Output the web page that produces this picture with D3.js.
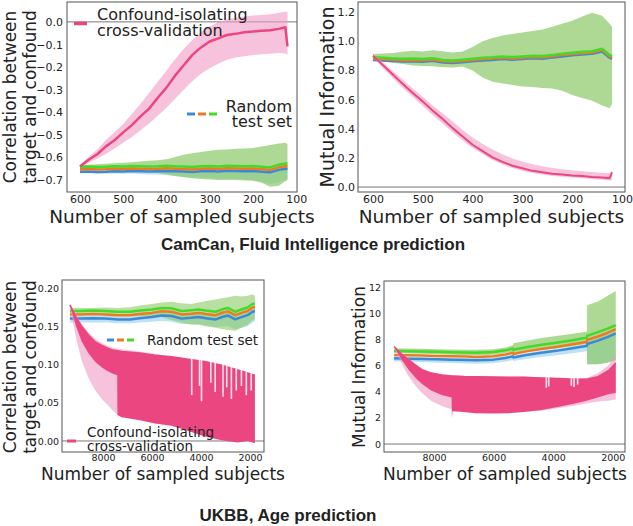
<!DOCTYPE html>
<html><head><meta charset="utf-8">
<script src="https://cdn.jsdelivr.net/npm/d3@7"></script>
<style>
body{margin:0;background:#fff}
text{font-family:"DejaVu Sans",sans-serif;fill:#222}
.title{font-family:"Liberation Sans",Arial,sans-serif;font-weight:bold}
</style>
</head><body>
<svg id="chart" width="633" height="526"></svg>
<script>
// ---------------- DATA ----------------
// CamCan (top row): x = number of sampled subjects
const camX = [600,580,560,540,520,500,480,460,440,420,400,380,360,340,320,300,280,260,240,220,200,180,160,140,125,120];
const camXTicks = [600,500,400,300,200,100];
const camCorrTicks = [-0.7,-0.6,-0.5,-0.4,-0.3,-0.2,-0.1,0.0];
const camMiTicks = [0.0,0.2,0.4,0.6,0.8,1.0,1.2];

// correlation, confound-isolating CV
const camCorrCV   = [-0.640,-0.610,-0.586,-0.551,-0.524,-0.489,-0.457,-0.418,-0.384,-0.336,-0.291,-0.238,-0.192,-0.146,-0.113,-0.087,-0.073,-0.058,-0.053,-0.046,-0.043,-0.039,-0.037,-0.031,-0.024,-0.108];
const camCorrCVlo = [-0.645,-0.625,-0.605,-0.585,-0.560,-0.535,-0.510,-0.480,-0.450,-0.415,-0.380,-0.340,-0.300,-0.262,-0.230,-0.205,-0.185,-0.168,-0.158,-0.152,-0.147,-0.143,-0.141,-0.138,-0.140,-0.145];
const camCorrCVhi = [-0.635,-0.598,-0.565,-0.523,-0.488,-0.452,-0.408,-0.362,-0.315,-0.265,-0.215,-0.165,-0.120,-0.080,-0.045,-0.020,-0.002,0.010,0.018,0.024,0.028,0.030,0.034,0.040,0.045,0.045];
// correlation, random test set (three runs)
const camCorrBlue   = [-0.663,-0.662,-0.664,-0.663,-0.661,-0.662,-0.660,-0.661,-0.662,-0.661,-0.660,-0.661,-0.662,-0.664,-0.661,-0.660,-0.662,-0.659,-0.660,-0.661,-0.660,-0.663,-0.666,-0.655,-0.650,-0.651];
const camCorrOrange = [-0.652,-0.651,-0.653,-0.652,-0.650,-0.651,-0.649,-0.650,-0.651,-0.650,-0.648,-0.650,-0.651,-0.653,-0.650,-0.649,-0.651,-0.648,-0.649,-0.650,-0.649,-0.652,-0.655,-0.644,-0.639,-0.640];
const camCorrGreen  = [-0.641,-0.640,-0.642,-0.641,-0.639,-0.640,-0.638,-0.639,-0.640,-0.639,-0.637,-0.639,-0.640,-0.642,-0.639,-0.638,-0.640,-0.637,-0.638,-0.639,-0.638,-0.641,-0.644,-0.632,-0.627,-0.628];
const camCorrGreenLo = [-0.646,-0.648,-0.652,-0.655,-0.657,-0.659,-0.661,-0.663,-0.666,-0.670,-0.675,-0.682,-0.688,-0.692,-0.695,-0.698,-0.700,-0.700,-0.700,-0.702,-0.703,-0.712,-0.730,-0.725,-0.705,-0.700];
const camCorrGreenHi = [-0.634,-0.632,-0.630,-0.628,-0.626,-0.624,-0.621,-0.618,-0.615,-0.612,-0.608,-0.598,-0.588,-0.582,-0.576,-0.570,-0.566,-0.565,-0.562,-0.560,-0.558,-0.552,-0.545,-0.538,-0.535,-0.540];
const camCorrBlueLo = [-0.670,-0.670,-0.672,-0.672,-0.671,-0.672,-0.671,-0.673,-0.675,-0.676,-0.678,-0.682,-0.686,-0.690,-0.690,-0.692,-0.694,-0.694,-0.695,-0.697,-0.700,-0.708,-0.718,-0.710,-0.700,-0.698];
const camCorrBlueHi = [-0.657,-0.656,-0.658,-0.657,-0.655,-0.656,-0.654,-0.655,-0.656,-0.655,-0.654,-0.655,-0.656,-0.658,-0.655,-0.654,-0.656,-0.653,-0.654,-0.655,-0.654,-0.657,-0.660,-0.649,-0.644,-0.645];

// mutual information, CamCan
const camMiCV   = [0.900,0.836,0.772,0.706,0.645,0.586,0.524,0.466,0.404,0.346,0.290,0.246,0.204,0.173,0.146,0.129,0.111,0.101,0.091,0.086,0.079,0.076,0.069,0.066,0.061,0.100];
const camMiCVlo = [0.895,0.815,0.748,0.680,0.618,0.556,0.494,0.436,0.376,0.320,0.268,0.226,0.186,0.155,0.130,0.112,0.097,0.086,0.076,0.071,0.065,0.060,0.055,0.050,0.045,0.045];
const camMiCVhi = [0.905,0.855,0.795,0.735,0.675,0.620,0.560,0.505,0.450,0.392,0.340,0.296,0.258,0.225,0.195,0.175,0.156,0.142,0.130,0.122,0.115,0.108,0.103,0.098,0.095,0.110];
const camMiGreen  = [0.890,0.886,0.882,0.879,0.881,0.878,0.884,0.872,0.868,0.873,0.880,0.886,0.890,0.896,0.891,0.896,0.901,0.898,0.906,0.914,0.921,0.927,0.932,0.948,0.905,0.898];
const camMiOrange = [0.881,0.877,0.873,0.870,0.872,0.869,0.875,0.863,0.859,0.864,0.871,0.877,0.881,0.887,0.882,0.887,0.892,0.889,0.897,0.905,0.912,0.918,0.923,0.939,0.896,0.889];
const camMiBlue   = [0.872,0.868,0.864,0.861,0.863,0.860,0.866,0.854,0.850,0.855,0.862,0.868,0.872,0.878,0.873,0.878,0.883,0.880,0.888,0.896,0.903,0.909,0.914,0.930,0.887,0.880];
const camMiGreenLo = [0.868,0.860,0.852,0.843,0.834,0.830,0.828,0.822,0.820,0.826,0.800,0.752,0.722,0.710,0.700,0.690,0.686,0.680,0.676,0.660,0.632,0.610,0.592,0.560,0.540,0.570];
const camMiGreenHi = [0.912,0.915,0.920,0.928,0.934,0.930,0.938,0.932,0.922,0.930,0.960,1.000,1.022,1.040,1.050,1.060,1.070,1.080,1.100,1.120,1.140,1.170,1.195,1.175,1.120,1.100];

// UKBB (bottom row)
const ukXTicks = [8000,6000,4000,2000];
const ukCorrTicks = [0.00,0.05,0.10,0.15,0.20];
const ukMiTicks = [0,2,4,6,8,10,12];

// UKBB correlation, confound-isolating CV (dense oscillating line: min/max envelope) + band
const ukCorrX      = [9350,9100,8870,8600,8330,8050,7780,7600,7420,7410,7240,6500,5880,5200,4520,3850,3160,2500,2100,1800];
const ukCorrLineHi = [0.178,0.162,0.150,0.139,0.130,0.125,0.121,0.119,0.118,0.118,0.117,0.115,0.112,0.110,0.107,0.104,0.099,0.093,0.089,0.086];
const ukCorrLineLo = [0.178,0.150,0.130,0.115,0.104,0.096,0.091,0.088,0.086,0.034,0.031,0.027,0.023,0.020,0.013,0.006,0.001,-0.002,0.000,-0.003];
const ukCorrBandHi = [0.180,0.165,0.153,0.142,0.134,0.128,0.124,0.122,0.121,0.121,0.120,0.117,0.114,0.110,0.103,0.094,0.085,0.081,0.079,0.076];
const ukCorrBandLo = [0.176,0.135,0.105,0.083,0.067,0.055,0.046,0.040,0.035,0.034,0.032,0.028,0.024,0.020,0.015,0.010,0.005,0.002,0.001,0.000];
const ukCorrGapX = [4380,4060,3980,3600,3420,3100,2950,2760,2560,2350,2150,1950];
const ukCorrGapY = [0.060,0.072,0.052,0.076,0.064,0.058,0.070,0.055,0.066,0.072,0.060,0.066];
// UKBB correlation, random test set
const ukCorrRandX = [9350,8900,8400,7900,7400,6900,6500,6000,5600,5200,4800,4400,4100,3800,3400,3100,2900,2600,2350,2100,1900,1800];
const ukCorrBlue   = [0.160,0.160,0.1605,0.160,0.159,0.159,0.1605,0.162,0.164,0.1635,0.160,0.161,0.162,0.1605,0.159,0.1625,0.164,0.159,0.162,0.1645,0.169,0.170];
const ukCorrOrange = [0.1655,0.1655,0.166,0.1655,0.1645,0.1645,0.166,0.1675,0.1695,0.169,0.1655,0.1665,0.1675,0.166,0.1645,0.168,0.1695,0.1645,0.1675,0.170,0.1745,0.1755];
const ukCorrGreen  = [0.170,0.170,0.1705,0.170,0.169,0.169,0.1705,0.172,0.174,0.1735,0.170,0.171,0.172,0.1705,0.169,0.1725,0.174,0.169,0.172,0.1745,0.179,0.180];
const ukCorrGreenLo = [0.166,0.166,0.166,0.166,0.165,0.164,0.163,0.163,0.162,0.158,0.155,0.152,0.152,0.150,0.148,0.146,0.145,0.144,0.148,0.152,0.158,0.160];
const ukCorrGreenHi = [0.174,0.174,0.174,0.1745,0.174,0.175,0.177,0.179,0.181,0.182,0.180,0.179,0.181,0.183,0.185,0.187,0.188,0.190,0.189,0.190,0.192,0.190];
const ukCorrBlueLo = [0.155,0.155,0.155,0.155,0.154,0.154,0.155,0.156,0.157,0.156,0.153,0.153,0.153,0.151,0.149,0.150,0.150,0.146,0.148,0.150,0.155,0.157];
const ukCorrBlueHi = [0.164,0.164,0.1645,0.164,0.163,0.163,0.1645,0.166,0.168,0.1675,0.164,0.165,0.166,0.1645,0.163,0.1665,0.168,0.163,0.166,0.1685,0.173,0.174];

// UKBB mutual information, confound-isolating CV
const ukMiX      = [9340,9100,8860,8600,8410,8100,7740,7410,7400,7380,7000,6620,6000,5500,5000,4390,3800,3270,2880,2500,2150,1900];
const ukMiLineHi = [7.45,6.90,6.45,6.00,5.68,5.42,5.27,5.20,5.20,5.20,5.16,5.14,5.12,5.10,5.10,5.05,5.00,4.95,4.95,5.15,5.60,6.20];
const ukMiLineLo = [7.45,6.50,5.70,5.00,4.60,4.10,3.75,3.55,1.97,2.50,2.45,2.35,2.33,2.35,2.45,2.60,2.85,3.10,3.30,3.55,3.80,3.90];
const ukMiBandHi = [7.50,7.00,6.55,6.10,5.78,5.50,5.33,5.25,5.25,5.25,5.20,5.18,5.16,5.14,5.14,5.10,5.05,5.00,5.05,5.40,6.00,6.90];
const ukMiBandLo = [7.40,6.20,5.20,4.40,3.90,3.30,2.90,2.65,2.60,2.55,2.50,2.45,2.40,2.40,2.45,2.55,2.75,2.95,3.10,3.25,3.30,3.40];
const ukMiGapX = [4230,4150,3390,3300,3180];
const ukMiGapY = [4.30,4.40,4.45,4.35,4.55];
// UKBB mutual information, random test set
const ukMiRandX = [9340,8900,8400,7900,7400,6900,6600,6000,5600,5350,5340,4900,4400,3900,3400,3000,2870,2860,2500,2200,1900];
const ukMiBlue   = [6.55,6.52,6.50,6.47,6.45,6.42,6.40,6.45,6.58,6.70,6.62,6.80,6.98,7.12,7.30,7.45,7.50,7.65,7.90,8.15,8.45];
const ukMiOrange = [6.80,6.78,6.76,6.73,6.71,6.68,6.66,6.71,6.84,6.97,6.88,7.08,7.27,7.42,7.60,7.76,7.81,7.96,8.22,8.47,8.78];
const ukMiGreen  = [7.12,7.10,7.08,7.05,7.02,6.99,6.98,7.03,7.16,7.30,7.20,7.40,7.58,7.74,7.92,8.08,8.13,8.28,8.55,8.80,9.08];
const ukMiGreenLo = [6.95,6.92,6.90,6.86,6.82,6.78,6.77,6.82,6.95,7.05,6.90,7.05,7.20,7.30,7.45,7.60,7.65,6.10,6.10,6.20,6.40];
const ukMiGreenHi = [7.30,7.30,7.28,7.25,7.22,7.20,7.20,7.25,7.38,7.55,7.70,7.90,8.10,8.25,8.40,8.55,8.60,10.60,10.90,11.30,11.70];
const ukMiBlueLo = [6.30,6.28,6.26,6.22,6.20,6.16,6.14,6.18,6.30,6.42,6.35,6.50,6.65,6.78,6.92,7.05,7.10,6.10,6.10,6.25,6.45];
const ukMiBlueHi = [6.70,6.67,6.65,6.62,6.60,6.57,6.55,6.60,6.73,6.85,6.77,6.95,7.13,7.27,7.45,7.60,7.65,7.80,8.05,8.30,8.60];

// text
const legendCV = ["Confound-isolating","cross-validation"];
const legendRandom = ["Random","test set"];
const xLabel = "Number of sampled subjects";
const corrLabel = ["Correlation between","target and confound"];
const miLabel = "Mutual Information";
const titles = ["CamCan, Fluid Intelligence prediction","UKBB, Age prediction"];

// ---------------- STYLE ----------------
const PINK="#eb4680", PINKBAND="#f29ac4", BLUE="#3a8ad6", ORANGE="#ee7a24", GREEN="#45d929",
      GREENBAND="#8cc966", BLUEBAND="#9fd5ee";

const svg = d3.select("#chart");
let clipId = 0;

function makePanel(o){
  const x = d3.scaleLinear().domain(o.xDom).range([o.l,o.r]);
  const y = d3.scaleLinear().domain(o.yDom).range([o.b,o.t]);
  const id = "clip"+(clipId++);
  svg.append("clipPath").attr("id",id).append("rect")
     .attr("x",o.l).attr("y",o.t).attr("width",o.r-o.l).attr("height",o.b-o.t);
  const g = svg.append("g").attr("clip-path",`url(#${id})`);
  return {x,y,g,o};
}
function band(p, xs, lo, hi, color, op){
  const a = d3.area().x(i=>p.x(xs[i])).y0(i=>p.y(lo[i])).y1(i=>p.y(hi[i]));
  p.g.append("path").attr("d",a(d3.range(xs.length))).attr("fill",color).attr("fill-opacity",op);
}
function line(p, xs, ys, color, w){
  const l = d3.line().x(i=>p.x(xs[i])).y(i=>p.y(ys[i]));
  p.g.append("path").attr("d",l(d3.range(xs.length))).attr("fill","none")
     .attr("stroke",color).attr("stroke-width",w).attr("stroke-linejoin","round");
}
function zeroLine(p){
  p.g.append("line").attr("x1",p.o.l).attr("x2",p.o.r).attr("y1",p.y(0)).attr("y2",p.y(0))
     .attr("stroke","#777").attr("stroke-width",1);
}
function axes(p, xt, yt, yfmt, fs, xpad, ypad){
  const o=p.o;
  const ax = svg.append("g").attr("transform",`translate(0,${o.b})`)
    .call(d3.axisBottom(p.x).tickValues(xt).tickSize(0).tickPadding(xpad).tickFormat(d3.format("d")));
  const ay = svg.append("g").attr("transform",`translate(${o.l},0)`)
    .call(d3.axisLeft(p.y).tickValues(yt).tickSize(0).tickPadding(ypad).tickFormat(d3.format(yfmt)));
  [ax,ay].forEach(a=>{a.select(".domain").remove();
    a.selectAll("text").attr("font-size",fs).attr("font-family","DejaVu Sans").attr("fill","#222");});
  svg.append("rect").attr("x",o.l).attr("y",o.t).attr("width",o.r-o.l).attr("height",o.b-o.t)
     .attr("fill","none").attr("stroke","#555").attr("stroke-width",1);
}
function text(s,x,y,fs,anchor,rot){
  const t = svg.append("text").text(s).attr("font-size",fs).attr("text-anchor",anchor||"start");
  if(rot) t.attr("transform",`translate(${x},${y}) rotate(-90)`); else t.attr("x",x).attr("y",y);
  return t;
}

// ---------- Panel 1: CamCan correlation ----------
const p1 = makePanel({l:67,r:297,t:2,b:192,xDom:[630,98],yDom:[-0.753,0.088]});
zeroLine(p1);
band(p1,camX,camCorrBlueLo,camCorrBlueHi,BLUEBAND,0.7);
band(p1,camX,camCorrGreenLo,camCorrGreenHi,GREENBAND,0.7);
line(p1,camX,camCorrBlue,BLUE,2.5);
line(p1,camX,camCorrOrange,ORANGE,2.5);
line(p1,camX,camCorrGreen,GREEN,2.5);
band(p1,camX,camCorrCVlo,camCorrCVhi,PINKBAND,0.6);
line(p1,camX,camCorrCV,PINK,2.5);
axes(p1,camXTicks,camCorrTicks,".1f",11,3,4);

// ---------- Panel 2: CamCan MI ----------
const p2 = makePanel({l:358,r:625,t:2,b:192,xDom:[630,94],yDom:[-0.034,1.269]});
zeroLine(p2);
band(p2,camX,camMiGreenLo,camMiGreenHi,GREENBAND,0.7);
line(p2,camX,camMiBlue,BLUE,2.5);
line(p2,camX,camMiOrange,ORANGE,2.5);
line(p2,camX,camMiGreen,GREEN,2.5);
band(p2,camX,camMiCVlo,camMiCVhi,PINKBAND,0.6);
line(p2,camX,camMiCV,PINK,2);
axes(p2,camXTicks,camMiTicks,".1f",11,3,3);

// ---------- Panel 3: UKBB correlation ----------
const p3 = makePanel({l:62,r:264,t:280,b:452,xDom:[9673,1429],yDom:[-0.0144,0.2105]});
zeroLine(p3);
band(p3,ukCorrRandX,ukCorrBlueLo,ukCorrBlueHi,BLUEBAND,0.7);
band(p3,ukCorrRandX,ukCorrGreenLo,ukCorrGreenHi,GREENBAND,0.6);
line(p3,ukCorrRandX,ukCorrBlue,BLUE,2.5);
line(p3,ukCorrRandX,ukCorrOrange,ORANGE,2.5);
line(p3,ukCorrRandX,ukCorrGreen,GREEN,2.5);
band(p3,ukCorrX,ukCorrBandLo,ukCorrBandHi,PINKBAND,0.6);
band(p3,ukCorrX,ukCorrLineLo,ukCorrLineHi,PINK,1);
line(p3,ukCorrX,ukCorrLineHi,PINK,1.5);
ukCorrGapX.forEach((gx,i)=>{
  const top = d3.scaleLinear().domain(ukCorrX).range(ukCorrLineHi)(gx);
  p3.g.append("line").attr("x1",p3.x(gx)).attr("x2",p3.x(gx)).attr("y1",p3.y(top)-1).attr("y2",p3.y(ukCorrGapY[i]))
    .attr("stroke","#fbe3ee").attr("stroke-width",1.6);
});
axes(p3,ukXTicks,ukCorrTicks,".2f",9.5,2,3);

// ---------- Panel 4: UKBB MI ----------
const p4 = makePanel({l:384,r:625,t:281,b:452,xDom:[9678,1590],yDom:[-0.61,12.46]});
zeroLine(p4);
band(p4,ukMiRandX,ukMiBlueLo,ukMiBlueHi,BLUEBAND,0.7);
band(p4,ukMiRandX,ukMiGreenLo,ukMiGreenHi,GREENBAND,0.7);
line(p4,ukMiRandX,ukMiBlue,BLUE,2.5);
line(p4,ukMiRandX,ukMiOrange,ORANGE,2.5);
line(p4,ukMiRandX,ukMiGreen,GREEN,2.5);
band(p4,ukMiX,ukMiBandLo,ukMiBandHi,PINKBAND,0.6);
band(p4,ukMiX,ukMiLineLo,ukMiLineHi,PINK,1);
line(p4,ukMiX,ukMiLineHi,PINK,1.5);
ukMiGapX.forEach((gx,i)=>{
  const top = d3.scaleLinear().domain(ukMiX).range(ukMiLineHi)(gx);
  p4.g.append("line").attr("x1",p4.x(gx)).attr("x2",p4.x(gx)).attr("y1",p4.y(top)-1).attr("y2",p4.y(ukMiGapY[i]))
    .attr("stroke","#fbe3ee").attr("stroke-width",1.6);
});
axes(p4,ukXTicks,ukMiTicks,"d",9.5,2,3);

// ---------- Legends ----------
function dashes(x0,y,w,gap){
  [BLUE,ORANGE,GREEN].forEach((c,i)=>{
    svg.append("line").attr("x1",x0+i*(w+gap)).attr("x2",x0+i*(w+gap)+w).attr("y1",y).attr("y2",y)
      .attr("stroke",c).attr("stroke-width",3);
  });
}
// panel 1
svg.append("line").attr("x1",74).attr("x2",87).attr("y1",23.5).attr("y2",23.5).attr("stroke",PINK).attr("stroke-width",3.5);
text(legendCV[0],97,20,16); text(legendCV[1],97,36,16);
dashes(187,114,8,3);
text(legendRandom[0],292,112,16,"end"); text(legendRandom[1],292,127,16,"end");
// panel 3
svg.append("line").attr("x1",67).attr("x2",76).attr("y1",441).attr("y2",441).attr("stroke",PINK).attr("stroke-width",3);
text(legendCV[0],87,437,13.5); text(legendCV[1],87,451,13.5);
dashes(107,340,7,3);
text(legendRandom.join(" "),147,345,13.5);

// ---------- Axis labels ----------
text(xLabel,182,223,18.5,"middle");
text(xLabel,491.5,223,18.5,"middle");
text(xLabel,163,480,17,"middle");
text(xLabel,505,480,17,"middle");
text(corrLabel[0],15.5,97,17,"middle",true);
text(corrLabel[1],35.5,97,17,"middle",true);
text(miLabel,334,97,19,"middle",true);
text(corrLabel[0],15.5,367,17,"middle",true);
text(corrLabel[1],35.5,367,17,"middle",true);
text(miLabel,365,367,17,"middle",true);

// ---------- Titles ----------
text(titles[0],313,250,17,"middle").attr("class","title");
text(titles[1],288,521,17,"middle").attr("class","title");
</script>
</body></html>
